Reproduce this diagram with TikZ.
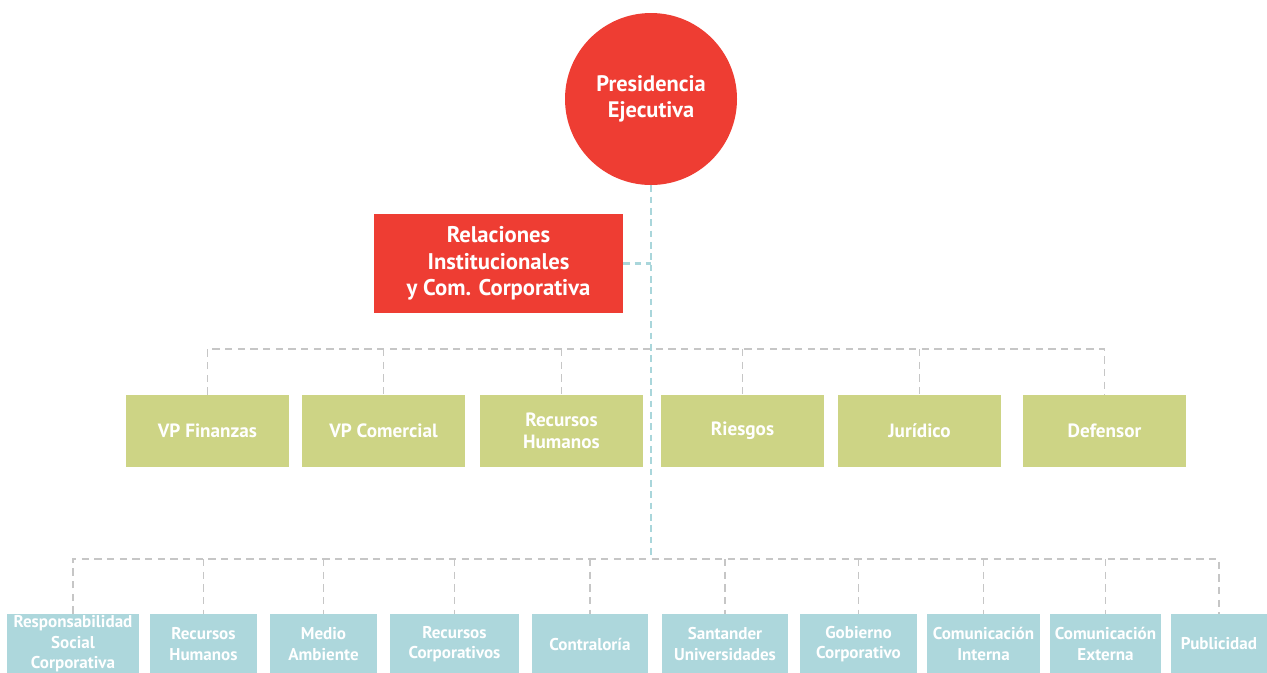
\documentclass[tikz,border=0pt]{standalone}
\usepackage{fontspec}
\setmainfont{PT Sans}
\definecolor{sred}{HTML}{EE3D33}
\definecolor{sgreen}{HTML}{CDD485}
\definecolor{sblue}{HTML}{ADD7DC}
\definecolor{dblue}{HTML}{A9D6DB}
\definecolor{dgray}{HTML}{C6C6C6}
\begin{document}
\begin{tikzpicture}[x=0.75pt,y=-0.75pt,
  gd/.style={draw=dgray,line width=1.1pt,dash pattern=on 5.5pt off 4pt},
  bd/.style={draw=dblue,line width=2.2pt,dash pattern=on 5pt off 3.5pt},
  circ/.style={circle,fill=sred,minimum size=129pt,inner sep=0pt,align=center,text=white,font=\bfseries\fontsize{16.8}{19.5}\selectfont},
  relbox/.style={rectangle,fill=sred,minimum width=186.75pt,minimum height=74.25pt,inner sep=0pt,align=center,text=white,font=\bfseries\fontsize{17}{20}\selectfont},
  gbox/.style={rectangle,fill=sgreen,minimum width=122.25pt,minimum height=54pt,inner sep=0pt,align=center,text=white,font=\bfseries\fontsize{14.4}{16.5}\selectfont},
  bbox/.style={rectangle,fill=sblue,minimum height=45pt,inner sep=0pt,align=center,text=white,font=\bfseries\fontsize{12.8}{15.3}\selectfont}]
\useasboundingbox (0,0) rectangle (1267,672);
\clip (0,0) rectangle (1267,672);
% top
\node[circ] (pres) at (651,99) {Presidencia\\Ejecutiva};
\node[relbox] (rel) at (498.5,263.5) {Relaciones\\Institucionales\\y Com. Corporativa};
% green row
\node[gbox] (g1) at (207.5,431) {VP Finanzas};
\node[gbox] (g2) at (383.5,431) {VP Comercial};
\node[gbox] (g3) at (561.5,431) {Recursos\\Humanos};
\node[gbox] (g4) at (742.5,431) {Riesgos};
\node[gbox] (g5) at (919.5,431) {Jurídico};
\node[gbox] (g6) at (1104.5,431) {Defensor};
% blue row
\node[bbox,minimum width=99pt] (b1) at (73,644) {Responsabilidad\\Social\\Corporativa};
\node[bbox,minimum width=80.25pt] (b2) at (203.5,644) {Recursos\\Humanos};
\node[bbox,minimum width=80.25pt] (b3) at (323.5,644) {Medio\\Ambiente};
\node[bbox,minimum width=96.75pt] (b4) at (454.5,644) {Recursos\\Corporativos};
\node[bbox,minimum width=87pt] (b5) at (590,644) {Contraloría};
\node[bbox,minimum width=94.5pt] (b6) at (725,644) {Santander\\Universidades};
\node[bbox,minimum width=87.75pt] (b7) at (858.5,644) {Gobierno\\Corporativo};
\node[bbox,minimum width=84.75pt] (b8) at (983.5,644) {Comunicación\\Interna};
\node[bbox,minimum width=83.25pt] (b9) at (1105.5,644) {Comunicación\\Externa};
\node[bbox,minimum width=72pt] (b10) at (1219,644) {Publicidad};
% coordinates
\coordinate (bar1) at (651,349);
\coordinate (bar2) at (651,559);
\coordinate (hubend) at (651,556);
% gray connectors, green row
\draw[gd] (g1.north) -- (g1.north |- bar1) -- (g6.north |- bar1) -- (g6.north);
\foreach \n in {g2,g3,g4,g5} \draw[gd] (\n.north |- bar1) -- (\n.north);
% gray connectors, blue row
\draw[gd] (b1.north) -- (b1.north |- bar2) -- (b10.north |- bar2) -- (b10.north);
\foreach \n in {b2,b3,b4,b5,b6,b7,b8,b9} \draw[gd] (\n.north |- bar2) -- (\n.north);
% blue spine
\draw[bd] (pres.south) -- (hubend);
\draw[bd] (rel.east) -- (rel.east -| pres.south);
\end{tikzpicture}
\end{document}
